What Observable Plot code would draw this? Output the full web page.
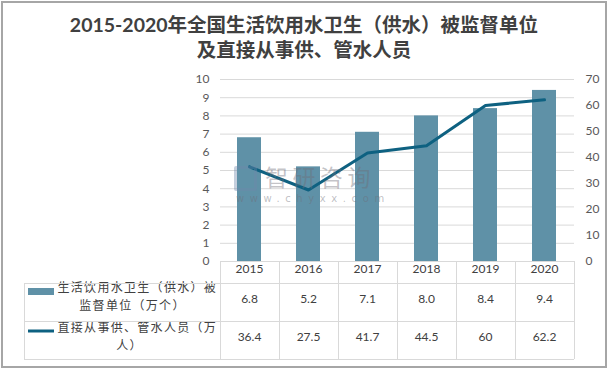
<!DOCTYPE html>
<html>
<head>
<meta charset="utf-8">
<script src="https://cdn.jsdelivr.net/npm/d3@7"></script>
<script src="https://cdn.jsdelivr.net/npm/@observablehq/plot@0.6"></script>
<style>
  body { margin: 0; background: #fff; }
  #wrap { position: relative; width: 608px; height: 369px; overflow: hidden; background: #fff; }
  #border { position: absolute; left: 1px; top: 1px; width: 602px; height: 363px; border: 2px solid #a6a6a6; pointer-events: none; }
  #title { position: absolute; left: 0; top: 12px; width: 608px; text-align: center;
           font-family: Lato, "Noto Sans CJK SC", sans-serif; font-size: 19.5px; line-height: 25px;
           color: #404040; font-weight: bold; }
  #chart { position: absolute; left: 0; top: 66px; }
  #wm { position: absolute; left: 234px; top: 0; pointer-events: none; }
  #wm .logo { position: absolute; left: 0; top: 166px; width: 17px; height: 19px; border: 3px solid rgba(110,135,170,0.4); border-radius: 2px; }
  #wm .cn { position: absolute; left: 31px; top: 164px; font-family: "Noto Sans CJK SC"; font-size: 23px; line-height: 24px; letter-spacing: 4.5px; color: rgba(110,110,120,0.42); white-space: nowrap; }
  #wm .en { position: absolute; left: 2px; top: 193px; font-family: "DejaVu Sans"; font-size: 10px; line-height: 12px; letter-spacing: 5.6px; color: rgba(110,110,120,0.45); white-space: nowrap; }
</style>
</head>
<body>
<div id="wrap">
  <div id="title">2015-2020年全国生活饮用水卫生（供水）被监督单位<br>及直接从事供、管水人员</div>
  <div id="chart"></div>
  <div id="wm"><div class="logo"></div><div class="cn">智研咨询</div><div class="en">www.chyxx.com</div></div>
  <div id="border"></div>
</div>
<script>
// ---- data ----
const years = ["2015", "2016", "2017", "2018", "2019", "2020"];
const units = [6.8, 5.2, 7.1, 8.0, 8.4, 9.4];           // 万个 (left axis)
const staff = [36.4, 27.5, 41.7, 44.5, 60, 62.2];        // 万人 (right axis)
const unitLabels = ["6.8", "5.2", "7.1", "8.0", "8.4", "9.4"];
const staffLabels = ["36.4", "27.5", "41.7", "44.5", "60", "62.2"];
const leftTicks = [0, 1, 2, 3, 4, 5, 6, 7, 8, 9, 10];
const rightTicks = [0, 10, 20, 30, 40, 50, 60, 70];
const seriesUnits = ["生活饮用水卫生（供水）被", "监督单位（万个）"];
const seriesStaff = ["直接从事供、管水人员（万", "人）"];
const RATIO = 7; // right max 70 / left max 10

const data = years.map((y, i) => ({year: y, units: units[i], staff: staff[i], uLab: unitLabels[i], sLab: staffLabels[i]}));

const barColor = "#5f91a7";
const lineColor = "#0e6181";
const gridColor = "#d9d9d9";
const numFont = "Lato, sans-serif";
const cnFont = "'Noto Sans CJK SC', sans-serif";

const W = 608, H = 303, mT = 13, mB = 108, mL = 220, mR = 34;

const legendText = {frameAnchor: "bottom-left", fontFamily: cnFont, fontSize: 12, fill: "#404040"};

const plot = Plot.plot({
  width: W, height: H,
  marginTop: mT, marginBottom: mB, marginLeft: mL, marginRight: mR,
  style: {fontFamily: numFont, fontSize: "11px", color: "#595959", background: "transparent", overflow: "visible"},
  x: {domain: years, paddingInner: 0.59, paddingOuter: 0.295, axis: null},
  y: {domain: [0, 10], axis: null},
  marks: [
    Plot.gridY(leftTicks, {stroke: gridColor, strokeOpacity: 1}),
    Plot.axisY(leftTicks, {anchor: "left", tickSize: 0, tickPadding: 11, label: null, fill: "#595959", fontSize: 12}),
    Plot.axisY(rightTicks.map(d => d / RATIO), {anchor: "right", tickSize: 0, tickPadding: 11, label: null,
      tickFormat: d => String(Math.round(d * RATIO)), fill: "#595959", fontSize: 12}),
    Plot.barY(data, {x: "year", y: "units", fill: barColor}),
    Plot.line(data, {x: "year", y: d => d.staff / RATIO, stroke: lineColor, strokeWidth: 3, strokeLinejoin: "round", strokeLinecap: "round"}),
    // table: header years and values
    Plot.text(data, {x: "year", text: "year", frameAnchor: "bottom", dy: 11, fill: "#404040", fontSize: 12}),
    Plot.text(data, {x: "year", text: "uLab", frameAnchor: "bottom", dy: 41, fill: "#404040", fontSize: 12}),
    Plot.text(data, {x: "year", text: "sLab", frameAnchor: "bottom", dy: 79, fill: "#404040", fontSize: 12}),
    // legend column
    Plot.text([seriesUnits[0]], {...legendText, text: d => d, textAnchor: "start", dx: -163, dy: 30, className: "lg"}),
    Plot.text([seriesUnits[1]], {...legendText, text: d => d, textAnchor: "middle", dx: -88, dy: 48, className: "lg"}),
    Plot.text([seriesStaff[0]], {...legendText, text: d => d, textAnchor: "start", dx: -163, dy: 70, className: "lg"}),
    Plot.text([seriesStaff[1]], {...legendText, text: d => d, textAnchor: "middle", dx: -91, dy: 88, className: "lg"})
  ]
});

document.getElementById("chart").appendChild(plot);
d3.select(plot).selectAll("g.lg text").style("letter-spacing", "1.3px");

// table grid lines derived from the x band scale
const xs = plot.scale("x");
const r0 = xs.range[0], r1 = xs.range[1];
const step = (r1 - r0) / years.length;
const y0 = H - mB;             // zero baseline
const rowYs = [y0 + 22, y0 + 60, y0 + 98];
const leftX = 24;
const svg = d3.select(plot);
const g = svg.append("g").attr("stroke", gridColor).attr("stroke-width", 1).attr("shape-rendering", "crispEdges");
for (let i = 0; i <= years.length; i++) {
  const x = Math.round(r0 + i * step) + 0.5;
  g.append("line").attr("x1", x).attr("x2", x).attr("y1", y0).attr("y2", rowYs[2]);
}
g.append("line").attr("x1", leftX + 0.5).attr("x2", leftX + 0.5).attr("y1", rowYs[0]).attr("y2", rowYs[2]);
rowYs.forEach(y => g.append("line").attr("x1", leftX).attr("x2", r1).attr("y1", y + 0.5).attr("y2", y + 0.5));
g.append("line").attr("x1", r0).attr("x2", r1).attr("y1", y0 + 0.5).attr("y2", y0 + 0.5);
// legend swatches
svg.append("rect").attr("x", 28).attr("y", y0 + 27).attr("width", 26).attr("height", 7).attr("fill", barColor);
svg.append("line").attr("x1", 28).attr("x2", 54).attr("y1", y0 + 70).attr("y2", y0 + 70).attr("stroke", lineColor).attr("stroke-width", 3);
</script>
</body>
</html>
